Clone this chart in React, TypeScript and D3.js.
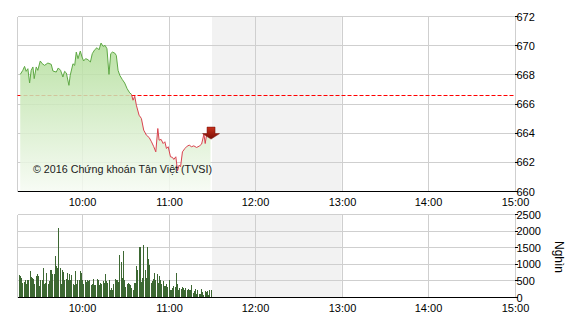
import React from "react";
import * as d3 from "d3";

// minutes after 09:15
const priceTimes = [1.9, 3.7, 4.9, 6.0, 7.2, 8.4, 9.5, 10.7, 11.6, 13.0, 14.1, 15.8, 17.2, 18.8, 21.1, 23.4, 24.6, 26.9, 28.3, 29.9, 31.5, 32.7, 33.9, 35.7, 36.6, 38.5, 39.7, 40.8, 42.0, 43.6, 44.8, 45.9, 47.3, 48.9, 50.6, 51.9, 53.6, 55.2, 56.6, 58.0, 59.4, 60.8, 62.1, 63.5, 64.7, 65.9, 67.5, 68.6, 69.8, 71.0, 72.8, 74.4, 76.1, 77.9, 79.1, 80.2, 81.4, 82.5, 84.4, 86.0, 87.6, 89.5, 91.4, 93.0, 94.6, 96.0, 97.4, 98.3, 99.7, 101.1, 102.3, 103.4, 104.6, 106.2, 107.6, 108.5, 109.9, 111.1, 112.2, 113.2, 114.5, 116.2, 117.8, 119.2, 120.8, 122.4, 124.3, 126.1, 127.8, 129.4, 130.3, 131.2, 133.1, 134.0];
const priceValues = [668.03, 668.31, 668.58, 668.24, 668.42, 667.44, 668.31, 668.54, 667.74, 668.54, 668.31, 668.95, 668.76, 668.65, 668.81, 668.72, 668.26, 668.19, 668.47, 668.31, 667.85, 668.24, 668.13, 667.28, 667.97, 668.76, 668.65, 669.56, 669.11, 669.63, 669.22, 668.95, 669.11, 669.04, 668.88, 669.45, 669.72, 669.86, 669.72, 670.18, 669.95, 670.02, 669.79, 668.03, 669.45, 669.56, 669.49, 669.33, 668.31, 667.97, 667.67, 667.44, 667.05, 666.76, 666.67, 666.26, 666.53, 665.92, 665.23, 665.01, 664.21, 663.86, 663.70, 663.41, 663.07, 662.72, 664.32, 663.52, 663.57, 663.29, 663.41, 662.95, 663.07, 662.38, 662.34, 662.20, 662.38, 661.42, 661.81, 661.70, 662.72, 662.95, 663.11, 663.18, 663.07, 663.13, 663.02, 663.11, 663.25, 663.93, 663.29, 663.86, 663.97, 663.97];

const referenceValue = 666.65;

const volumes = [670, 640, 600, 440, 470, 520, 400, 520, 540, 800, 620, 600, 570, 420, 640, 720, 640, 340, 520, 520, 900, 420, 440, 740, 420, 500, 840, 820, 720, 720, 1240, 940, 900, 2090, 900, 420, 840, 770, 540, 560, 740, 520, 700, 520, 670, 420, 380, 800, 400, 540, 520, 800, 740, 520, 420, 520, 470, 520, 500, 520, 370, 420, 560, 370, 380, 560, 540, 390, 440, 420, 490, 440, 700, 490, 440, 540, 240, 300, 240, 400, 560, 520, 520, 470, 1270, 1070, 600, 1400, 520, 320, 400, 440, 420, 370, 300, 220, 440, 440, 940, 820, 1530, 1530, 470, 600, 1580, 820, 600, 1510, 1170, 980, 440, 490, 570, 740, 520, 700, 440, 640, 540, 420, 500, 340, 340, 420, 320, 540, 240, 240, 300, 340, 320, 740, 400, 240, 300, 260, 320, 300, 240, 280, 220, 260, 240, 240, 370, 140, 200, 260, 120, 220, 100, 100, 260, 170, 80, 200, 170, 200, 80, 220, 240];
const volumeStart = 1.2;
const volumeEnd = 134.4;

const hourTicks = [10, 11, 12, 13, 14, 15];
const priceTicks = [660, 662, 664, 666, 668, 670, 672];
const volumeTicks = [0, 500, 1000, 1500, 2000, 2500];
const breakStart = 135; // 11:30
const breakEnd = 225; // 13:00

const FONT = "'Liberation Sans', Arial, sans-serif";

export default function App() {
  const L = 17.5, R = 514.5;
  const x = d3.scaleLinear().domain([0, 345]).range([L, R]);
  const yP = d3.scaleLinear().domain([660, 672]).range([191.5, 16.5]);
  const yV = d3.scaleLinear().domain([0, 2500]).range([297.5, 214.5]);
  const hx = (h: number) => Math.round(x((h - 9.25) * 60)) + 0.5;

  const pts = priceTimes.map((t, i) => [t, priceValues[i]] as [number, number]);
  const line = d3.line<[number, number]>().x(d => x(d[0])).y(d => yP(d[1]));
  const area = d3.area<[number, number]>().x(d => x(d[0])).y0(yP(660)).y1(d => yP(d[1]));
  const refY = Math.round(yP(referenceValue)) + 0.5;
  const vStep = (volumeEnd - volumeStart) / (volumes.length - 1);
  const last = pts[pts.length - 1];
  const ax = x(last[0]) + 0.5, ay = yP(last[1]) - 6.5;

  const grid = "#cfcfcf";
  return (
    <svg width={570} height={320} style={{ position: "absolute", left: 0, top: 0 }} fontFamily={FONT}>
      <defs>
        <linearGradient id="ag" x1="0" y1={yP(672)} x2="0" y2={yP(660)} gradientUnits="userSpaceOnUse">
          <stop offset="0" stopColor="#a3d786" />
          <stop offset="1" stopColor="#f6fbf3" />
        </linearGradient>
        <linearGradient id="arr" x1="0" y1="0" x2="0" y2="1">
          <stop offset="0" stopColor="#c8321c" />
          <stop offset="1" stopColor="#7a0c05" />
        </linearGradient>
        <clipPath id="above"><rect x={0} y={0} width={570} height={yP(referenceValue)} /></clipPath>
        <clipPath id="below"><rect x={0} y={yP(referenceValue)} width={570} height={200} /></clipPath>
      </defs>
      <rect width={570} height={320} fill="#fff" />
      {/* break shading */}
      <rect x={x(breakStart)} y={16.5} width={x(breakEnd) - x(breakStart)} height={175} fill="#f2f2f2" />
      <rect x={x(breakStart)} y={214.5} width={x(breakEnd) - x(breakStart)} height={83} fill="#f2f2f2" />
      {/* grids */}
      <g stroke={grid} strokeWidth={1} shapeRendering="crispEdges">
        {priceTicks.map(v => <line key={"p" + v} x1={L} x2={R} y1={yP(v)} y2={yP(v)} />)}
        {volumeTicks.map(v => <line key={"v" + v} x1={L} x2={R} y1={yV(v)} y2={yV(v)} />)}
        {hourTicks.map(h => <line key={"h" + h} x1={hx(h)} x2={hx(h)} y1={16.5} y2={191.5} />)}
        {hourTicks.map(h => <line key={"hv" + h} x1={hx(h)} x2={hx(h)} y1={214.5} y2={297.5} />)}
        <line x1={L} x2={L} y1={16.5} y2={191.5} />
        <line x1={L} x2={L} y1={214.5} y2={297.5} />
      </g>
      {/* reference line */}
      <line x1={L} x2={R} y1={refY} y2={refY} stroke="red" strokeWidth={1} strokeDasharray="4 2" />
      {/* area */}
      <path d={area(pts) || ""} fill="url(#ag)" opacity={0.85} />
      <path d={line(pts) || ""} fill="none" stroke="#5ea844" strokeWidth={1} clipPath="url(#above)" />
      <path d={line(pts) || ""} fill="none" stroke="#d9424f" strokeWidth={1} clipPath="url(#below)" />
      {/* arrow */}
      <path d={`M${ax - 4},${ay} L${ax + 4},${ay} L${ax + 4},${ay + 6.5} L${ax + 8.5},${ay + 6.5} L${ax},${ay + 12} L${ax - 8.5},${ay + 6.5} L${ax - 4},${ay + 6.5} Z`} fill="url(#arr)" stroke="#6e0a04" strokeWidth={0.5} />
      {/* copyright */}
      <text x={33} y={173} fontSize={11} fill="#1a1a1a" textLength={179} lengthAdjust="spacingAndGlyphs">© 2016 Chứng khoán Tân Việt (TVSI)</text>
      {/* volume bars */}
      <g fill="#3d6833" shapeRendering="crispEdges">
        {volumes.map((v, i) => {
          const t = volumeStart + i * vStep;
          return <rect key={i} x={x(t) - 0.5} y={yV(v)} width={1} height={yV(0) - yV(v)} />;
        })}
      </g>
      {/* axes */}
      <g stroke="#000" strokeWidth={1} shapeRendering="crispEdges">
        <line x1={L} x2={R} y1={191.5} y2={191.5} />
        <line x1={L} x2={R} y1={297.5} y2={297.5} />
        {priceTicks.map(v => <line key={"tp" + v} x1={R} x2={R + 3} y1={yP(v)} y2={yP(v)} />)}
        {volumeTicks.map(v => <line key={"tv" + v} x1={R} x2={R + 3} y1={yV(v)} y2={yV(v)} />)}
      </g>
      <g fontSize={11} fill="#000">
        {priceTicks.map(v => <text key={"lp" + v} x={R + 2} y={yP(v) + 4}>{v}</text>)}
        {volumeTicks.map(v => <text key={"lv" + v} x={R + 2} y={yV(v) + 4}>{v}</text>)}
        {hourTicks.map(h => <text key={"lh" + h} x={hx(h)} y={206} textAnchor="middle">{`${h}:00`}</text>)}
        {hourTicks.map(h => <text key={"lh2" + h} x={hx(h)} y={312} textAnchor="middle">{`${h}:00`}</text>)}
        <text transform="translate(555,257) rotate(90)" textAnchor="middle" fontSize={12}>Nghìn</text>
      </g>
    </svg>
  );
}
